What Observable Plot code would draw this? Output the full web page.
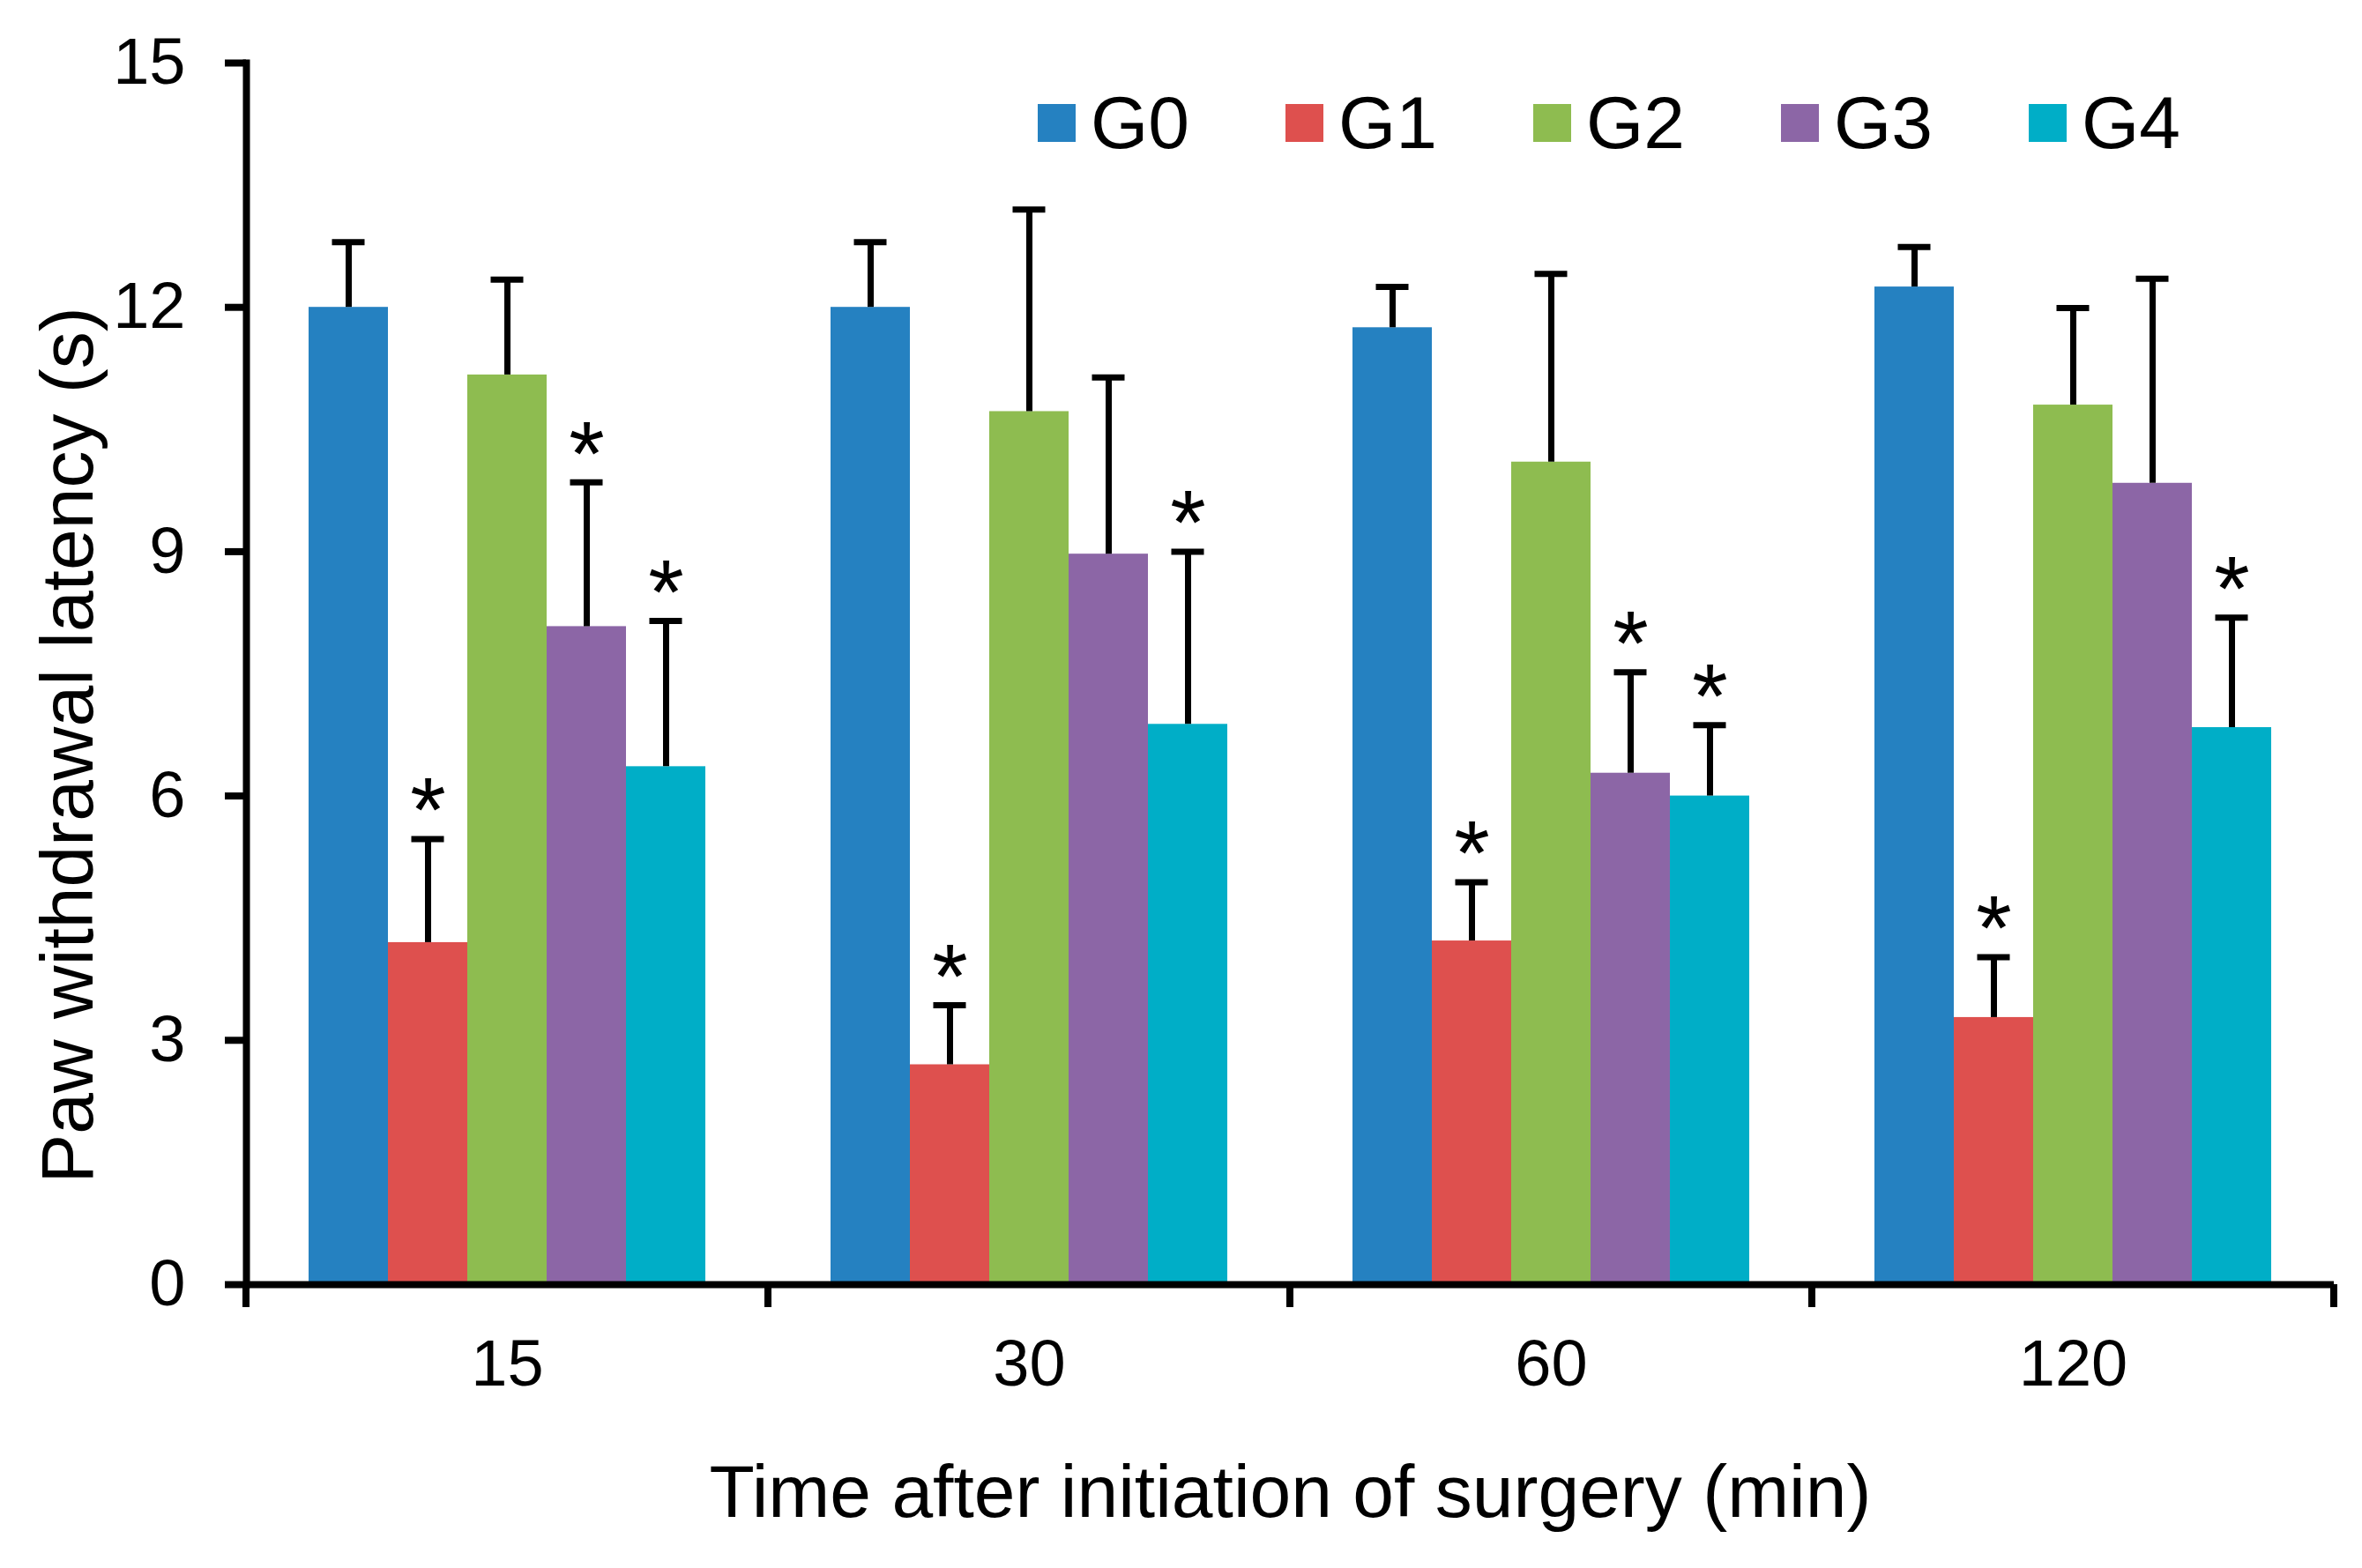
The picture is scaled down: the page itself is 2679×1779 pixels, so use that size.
<!DOCTYPE html>
<html><head><meta charset="utf-8">
<script src="https://cdn.jsdelivr.net/npm/d3@7"></script>
<script src="https://cdn.jsdelivr.net/npm/@observablehq/plot@0.6"></script>
<style>
html,body{margin:0;padding:0;background:#fff;}
#chart{position:relative;width:2679px;height:1779px;font-family:"Liberation Sans",Arial,sans-serif;}
#legend{position:absolute;left:1177px;top:91px;display:flex;align-items:center;}
.item{display:flex;align-items:center;width:281px;font-size:84px;color:#000;}
.sw{width:43px;height:43px;margin-right:17px;flex:none;}
</style></head><body><div id="chart"></div>
<script>
const times = ["15", "30", "60", "120"];
const groups = ["G0", "G1", "G2", "G3", "G4"];
const colors = ["#2581c1", "#de504e", "#8ebc50", "#8c66a6", "#00aec7"];
const yTicks = [0, 3, 6, 9, 12, 15];
const xTitle = "Time after initiation of surgery (min)";
const yTitle = "Paw withdrawal latency (s)";

// mean latency per group, in time order 15, 30, 60, 120
const meanG0 = [12.00, 12.00, 11.75, 12.25];
const meanG1 = [4.20, 2.70, 4.22, 3.28];
const meanG2 = [11.17, 10.72, 10.10, 10.80];
const meanG3 = [8.08, 8.97, 6.28, 9.84];
const meanG4 = [6.36, 6.88, 6.00, 6.84];

// standard deviation (upper error bar)
const sdG0 = [0.80, 0.80, 0.50, 0.49];
const sdG1 = [1.27, 0.73, 0.72, 0.74];
const sdG2 = [1.17, 2.48, 2.31, 1.19];
const sdG3 = [1.77, 2.17, 1.24, 2.51];
const sdG4 = [1.79, 2.12, 0.87, 1.35];

// significance marker (*)
const sigG0 = [false, false, false, false];
const sigG1 = [true, true, true, true];
const sigG2 = [false, false, false, false];
const sigG3 = [true, false, true, false];
const sigG4 = [true, true, true, true];

const M = [meanG0, meanG1, meanG2, meanG3, meanG4];
const S = [sdG0, sdG1, sdG2, sdG3, sdG4];
const SIG = [sigG0, sigG1, sigG2, sigG3, sigG4];

const rows = groups.flatMap((g, gi) => times.map((t, ti) => ({
  group: g, time: t, mean: M[gi][ti], sd: S[gi][ti], sig: SIG[gi][ti]
})));
const errTop = d => d.mean + d.sd;

const plot = Plot.plot({
  width: 2679,
  height: 1779,
  marginLeft: 277,
  marginRight: 31,
  marginTop: 71,
  marginBottom: 322,
  style: {fontFamily: "Liberation Sans, Arial, sans-serif", color: "#000", background: "#fff", overflow: "visible"},
  fx: {domain: times, padding: 0, axis: null},
  x: {domain: groups, paddingInner: 0, paddingOuter: 0.757, axis: null},
  y: {domain: [0, 15], axis: null},
  color: {domain: groups, range: colors},
  marks: [
    Plot.barY(rows, {fx: "time", x: "group", y: "mean", fill: "group"}),
    Plot.ruleX(rows, {fx: "time", x: "group", y1: "mean", y2: errTop, stroke: "#000", strokeWidth: 7}),
    Plot.tickY(rows, {fx: "time", x: "group", y: errTop, stroke: "#000", strokeWidth: 7, insetLeft: 26.5, insetRight: 26.5}),
    Plot.text(rows.filter(d => d.sig), {fx: "time", x: "group", y: errTop, text: () => "*", fontSize: 104, dy: -30, fill: "#000"}),
    Plot.ruleY([0], {stroke: "#000", strokeWidth: 8}),
    Plot.frame({anchor: "left", facetAnchor: "left", stroke: "#000", strokeWidth: 8}),
    Plot.axisY({ticks: yTicks, tickSize: 24, tickPadding: 45, fontSize: 74, stroke: "#000", strokeWidth: 8, label: null}),
    Plot.axisFx({anchor: "bottom", tickSize: 0, tickPadding: 62, fontSize: 74, label: null}),
    Plot.axisFx({anchor: "bottom", ticks: [], tickSize: 0, label: xTitle, labelAnchor: "center", labelOffset: 263, fontSize: 84}),
    Plot.text([yTitle], {text: d => d, frameAnchor: "left", textAnchor: "middle", rotate: -90, lineAnchor: "bottom", dx: -175, dy: 81, fontSize: 84, fill: "#000", facetAnchor: "left"})
  ]
});

// category boundary ticks below the x axis, placed with the fx scale
const fxs = plot.scale("fx"), ys = plot.scale("y");
const y0 = ys.apply(0);
const bx = fxs.domain.map(d => fxs.apply(d));
bx.push(fxs.apply(fxs.domain[fxs.domain.length - 1]) + fxs.bandwidth);
d3.select(plot).append("g").selectAll("line").data(bx).join("line")
  .attr("x1", d => d).attr("x2", d => d)
  .attr("y1", y0).attr("y2", y0 + 26)
  .attr("stroke", "#000").attr("stroke-width", 8);

const chart = document.getElementById("chart");
chart.appendChild(plot);

const legend = d3.select(chart).append("div").attr("id", "legend");
const items = legend.selectAll("div").data(groups).join("div").attr("class", "item");
items.append("div").attr("class", "sw").style("background", (d, i) => colors[i]);
items.append("span").text(d => d);
</script>
</body></html>
